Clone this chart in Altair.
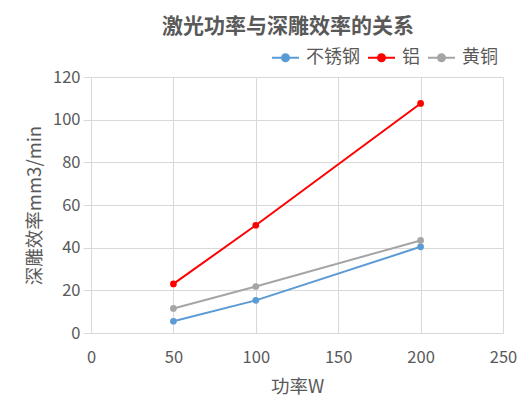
import altair as alt
import pandas as pd

powers = [50, 100, 200]
series_names = ["不锈钢", "铝", "黄铜"]
stainless = [5.5, 15.3, 40.4]
aluminum = [23.0, 50.5, 107.6]
brass = [11.5, 21.8, 43.4]
colors = ["#5B9BD5", "#FF0000", "#A5A5A5"]

rows = []
for name, vals in zip(series_names, [stainless, aluminum, brass]):
    for p, v in zip(powers, vals):
        rows.append({"功率": p, "效率": v, "材料": name})
df = pd.DataFrame(rows)

FONT = "Noto Sans CJK SC"
TXT = "#595959"
GRID = "#D9D9D9"

sym = "M-1,0H1M0.26,0A0.26,0.26,0,1,1,-0.26,0A0.26,0.26,0,1,1,0.26,0Z"

color = alt.Color(
    "材料:N",
    scale=alt.Scale(domain=series_names, range=colors),
    sort=series_names,
    legend=alt.Legend(
        title=None,
        orient="none",
        direction="horizontal",
        legendX=180,
        legendY=-34,
        symbolType=sym,
        symbolSize=729,
        symbolStrokeWidth=2,
        labelFont=FONT,
        labelFontSize=18,
        labelColor=TXT,
        labelOffset=6,
        columnPadding=4,
    ),
)

x = alt.X(
    "功率:Q",
    scale=alt.Scale(domain=[0, 250], nice=False),
    axis=alt.Axis(
        values=[0, 50, 100, 150, 200, 250],
        title="功率W",
        domain=False,
        ticks=False,
        labelFlush=False,
        labelPadding=16,
        titlePadding=12,
    ),
)
y = alt.Y(
    "效率:Q",
    scale=alt.Scale(domain=[0, 120], nice=False),
    axis=alt.Axis(
        values=[0, 20, 40, 60, 80, 100, 120],
        title="深雕效率mm3/min",
        domain=False,
        ticks=True,
        tickSize=8,
        tickColor=GRID,
        labelFlush=False,
        labelPadding=3,
        titlePadding=8,
    ),
)

base = alt.Chart(df)
lines = base.mark_line(strokeWidth=2).encode(x=x, y=y, color=color)
points = base.mark_circle(size=45, opacity=1).encode(x=x, y=y, color=color)

chart = (
    alt.layer(lines, points)
    .properties(
        width=412,
        height=256,
        background="white",
        autosize=alt.AutoSizeParams(type="none"),
        padding={"left": 83, "top": 69, "right": 16, "bottom": 75},
        title=alt.TitleParams(
            "激光功率与深雕效率的关系",
            font=FONT,
            fontSize=21,
            fontWeight="bold",
            color=TXT,
            anchor="middle",
            offset=6,
            dx=-9,
        ),
    )
    .configure_view(stroke=None)
    .configure_axis(
        gridColor=GRID,
        gridWidth=1,
        labelFont=FONT,
        labelFontSize=16.5,
        labelColor=TXT,
        titleFont=FONT,
        titleFontSize=18.5,
        titleFontWeight="normal",
        titleColor=TXT,
    )
)

chart.save("out.html", embed_options={"renderer": "svg", "actions": False})
